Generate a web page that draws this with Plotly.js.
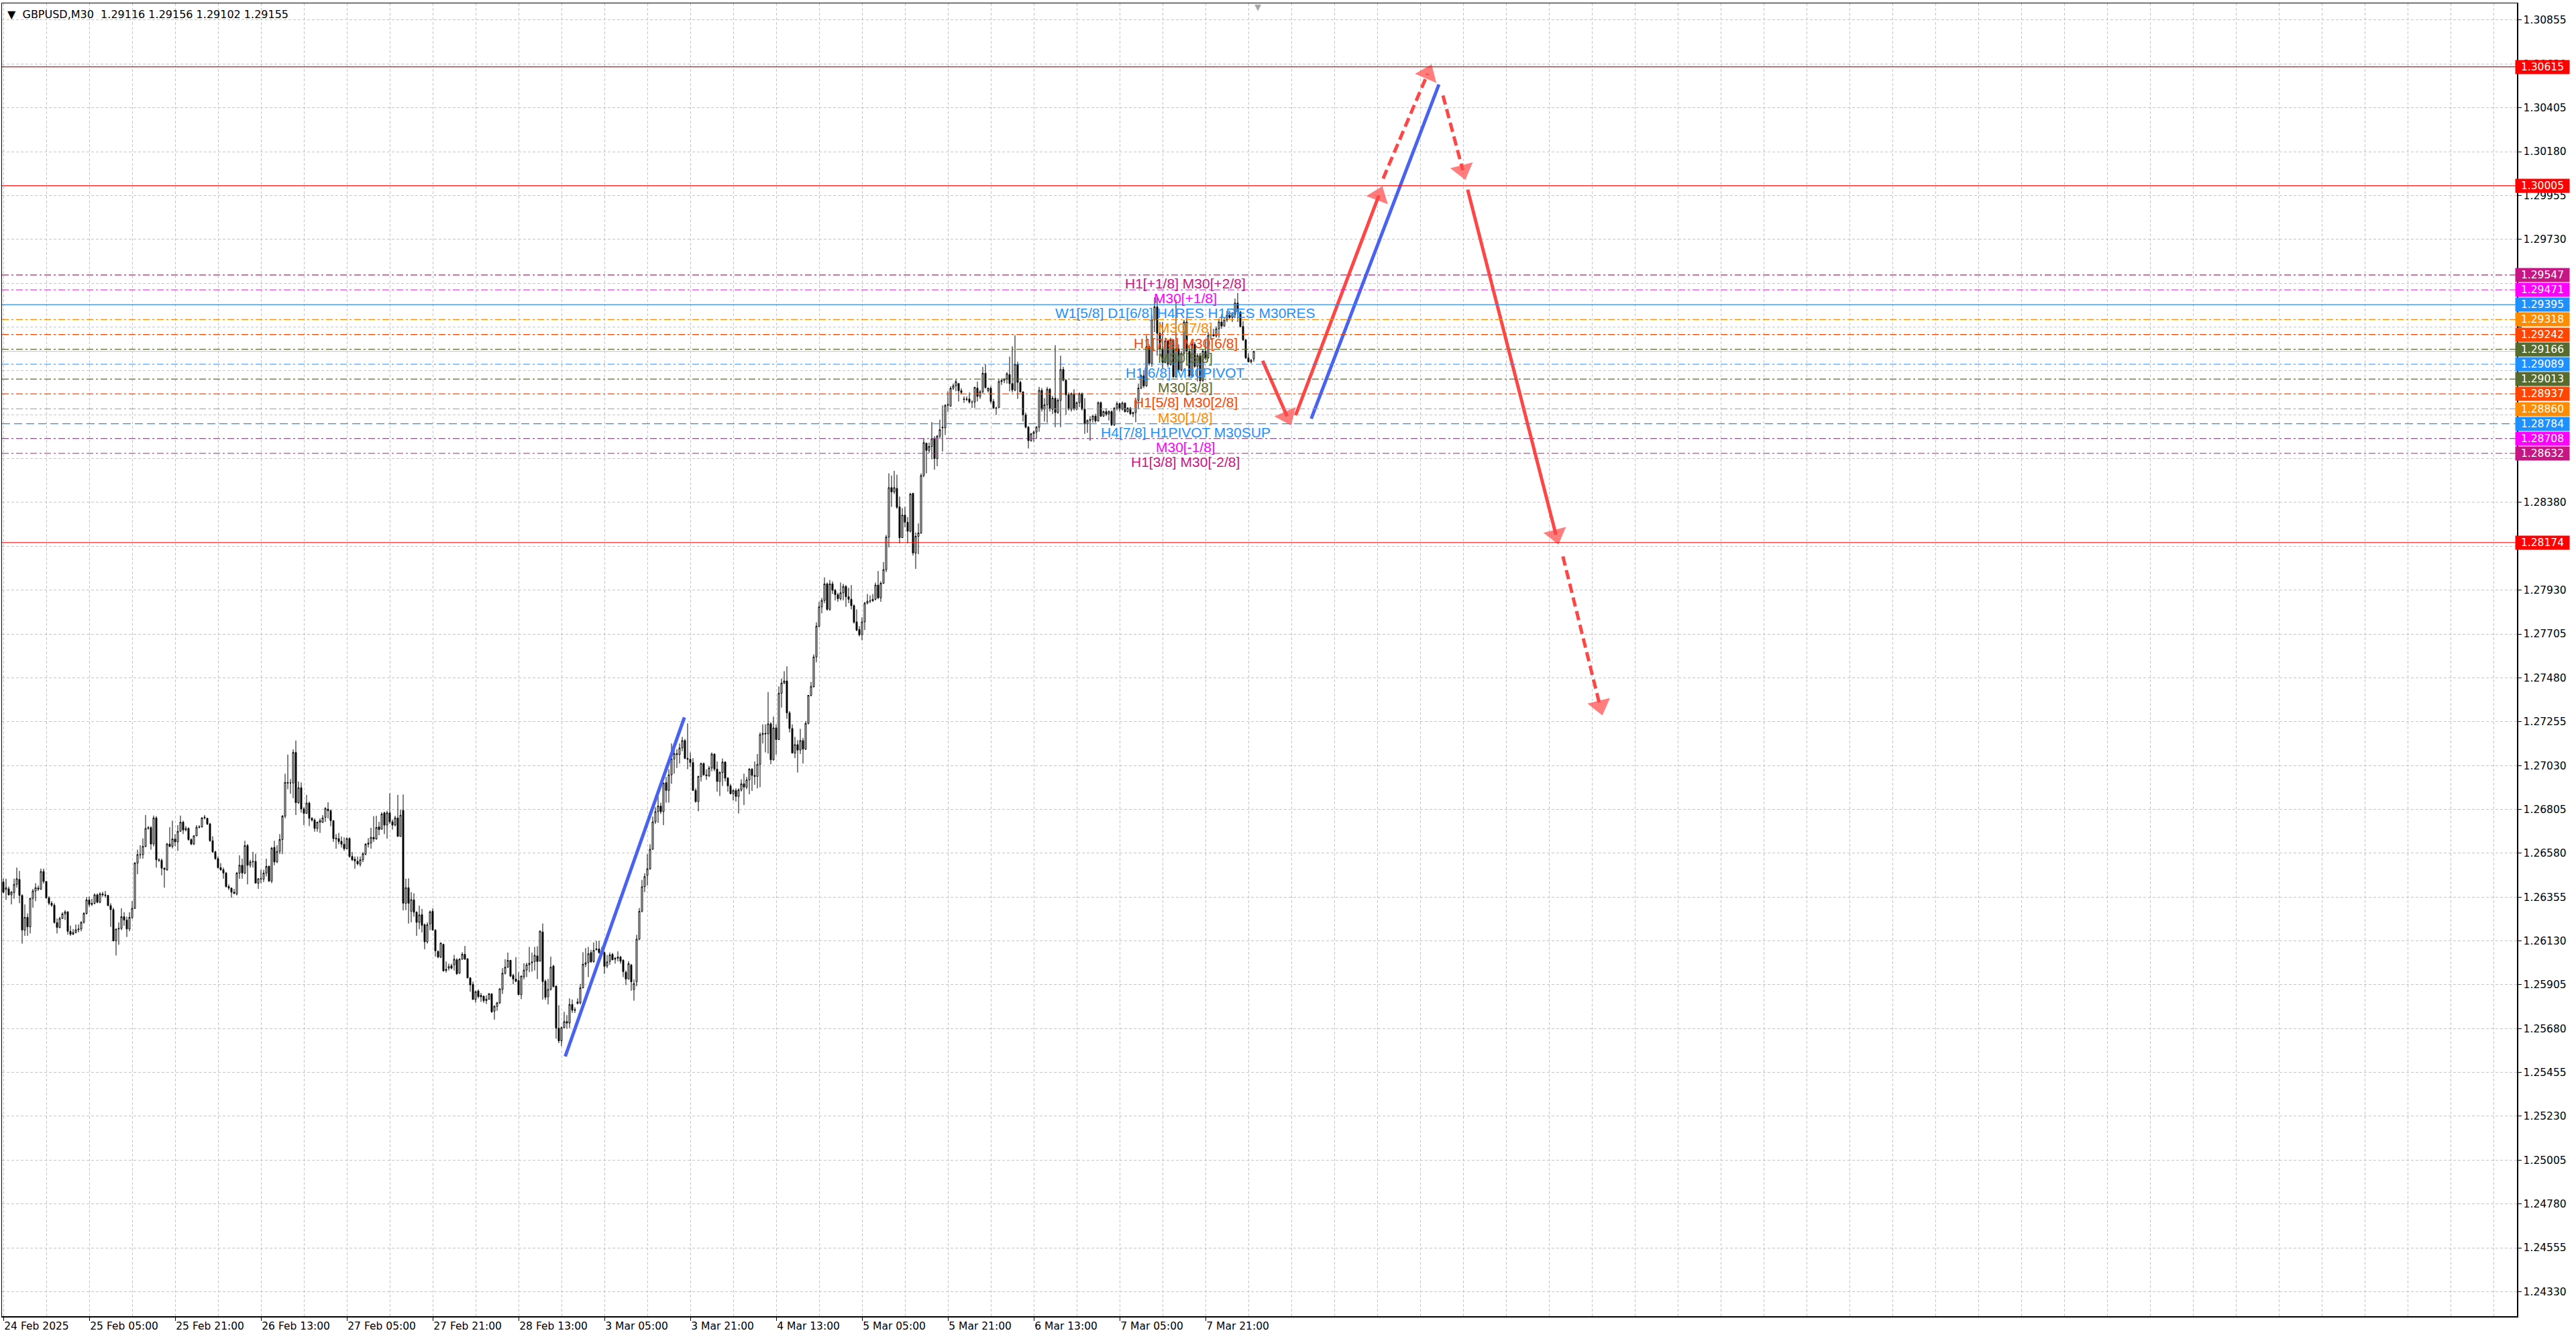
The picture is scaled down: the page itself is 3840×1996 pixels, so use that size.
<!DOCTYPE html>
<html>
<head>
<meta charset="utf-8">
<title>GBPUSD,M30</title>
<script src="https://cdn.plot.ly/plotly-3.0.1.min.js"></script>
<style>
  html, body { margin: 0; padding: 0; background: #ffffff; }
  #chart { width: 3840px; height: 1996px; }
</style>
</head>
<body>
<div id="chart"></div>
<script>
// GBPUSD M30 with Murrey levels and the projected path

const symbol = 'GBPUSD';
const timeframe = 'M30';

// candles, one per 30 minute bar
const openPrices = [
  1.26432,1.26394,1.26397,1.26366,1.26378,1.26420,1.26445,1.26363,1.26185,1.26251,
  1.26202,1.26348,1.26386,1.26401,1.26396,1.26486,1.26435,1.26351,1.26323,1.26313,
  1.26224,1.26199,1.26245,1.26268,1.26279,1.26179,1.26164,1.26173,1.26187,1.26191,
  1.26225,1.26271,1.26340,1.26317,1.26323,1.26366,1.26328,1.26371,1.26366,1.26363,
  1.26311,1.26290,1.26130,1.26191,1.26194,1.26254,1.26237,1.26191,1.26251,1.26297,
  1.26529,1.26573,1.26572,1.26615,1.26707,1.26711,1.26627,1.26761,1.26546,1.26543,
  1.26503,1.26495,1.26627,1.26615,1.26653,1.26638,1.26692,1.26739,1.26699,1.26707,
  1.26650,1.26627,1.26669,1.26713,1.26715,1.26761,1.26759,1.26730,1.26644,1.26587,
  1.26552,1.26506,1.26495,1.26478,1.26409,1.26401,1.26380,1.26371,1.26478,1.26518,
  1.26478,1.26619,1.26518,1.26535,1.26538,1.26426,1.26449,1.26447,1.26478,1.26512,
  1.26437,1.26610,1.26535,1.26589,1.26650,1.26770,1.26943,1.26940,1.26940,1.27097,
  1.26839,1.26916,1.26807,1.26784,1.26837,1.26759,1.26750,1.26707,1.26739,1.26738,
  1.26764,1.26806,1.26798,1.26747,1.26657,1.26655,1.26641,1.26626,1.26603,1.26655,
  1.26563,1.26549,1.26538,1.26523,1.26546,1.26575,1.26626,1.26632,1.26661,1.26653,
  1.26715,1.26703,1.26787,1.26724,1.26787,1.26741,1.26724,1.26761,1.26666,1.26800,
  1.26323,1.26403,1.26282,1.26340,1.26277,1.26225,1.26265,1.26213,1.26125,1.26217,
  1.26282,1.26185,1.26076,1.26047,1.26112,1.25984,1.25990,1.26003,1.26007,1.26033,
  1.25964,1.26036,1.26061,1.26038,1.25940,1.25907,1.25829,1.25873,1.25850,1.25846,
  1.25823,1.25831,1.25858,1.25769,1.25794,1.25812,1.25881,1.25964,1.25995,1.26030,
  1.25953,1.25934,1.25926,1.25854,1.25946,1.25980,1.26007,1.26022,1.26024,1.26053,
  1.26026,1.26176,1.25923,1.25843,1.25881,1.26001,1.25898,1.25682,1.25617,1.25685,
  1.25716,1.25708,1.25804,1.25777,1.25808,1.25812,1.25889,1.26010,1.26018,1.26070,
  1.26024,1.26084,1.26089,1.26072,1.26070,1.26001,1.26024,1.26061,1.26041,1.26041,
  1.26047,1.26030,1.25969,1.25934,1.26006,1.25880,1.25920,1.26139,1.26282,1.26408,
  1.26466,1.26500,1.26600,1.26741,1.26793,1.26822,1.26793,1.26942,1.26902,1.26982,
  1.27063,1.27091,1.27086,1.27120,1.27158,1.27066,1.27062,1.27045,1.26902,1.26845,
  1.26974,1.27040,1.26982,1.26977,1.27017,1.27089,1.27011,1.26948,1.26994,1.27048,
  1.26965,1.26925,1.26885,1.26902,1.26871,1.26905,1.26936,1.26919,1.26956,1.27011,
  1.26979,1.26974,1.27036,1.27189,1.27195,1.27192,1.27244,1.27059,1.27223,1.27163,
  1.27401,1.27453,1.27464,1.27300,1.27220,1.27094,1.27137,1.27109,1.27158,1.27114,
  1.27246,1.27390,1.27435,1.27587,1.27745,1.27844,1.27877,1.27962,1.27831,1.27962,
  1.27929,1.27907,1.27886,1.27916,1.27949,1.27896,1.27883,1.27850,1.27767,1.27728,
  1.27701,1.27767,1.27863,1.27873,1.27875,1.27883,1.27956,1.27890,1.27965,1.28035,
  1.28202,1.28456,1.28434,1.28452,1.28357,1.28199,1.28315,1.28278,1.28232,1.28426,
  1.28120,1.28206,1.28223,1.28518,1.28684,1.28647,1.28667,1.28707,1.28605,1.28720,
  1.28766,1.28763,1.28878,1.28874,1.28966,1.28979,1.28990,1.28953,1.28911,1.28911,
  1.28911,1.28895,1.28895,1.28967,1.28924,1.28948,1.29043,1.28953,1.28966,1.28898,
  1.28865,1.28867,1.29000,1.29006,1.29014,1.29036,1.28990,1.28957,1.29089,1.28996,
  1.28947,1.28829,1.28766,1.28697,1.28732,1.28741,1.28766,1.28955,1.28858,1.28881,
  1.28961,1.28858,1.28915,1.28841,1.28904,1.29062,1.29007,1.28932,1.28858,1.28938,
  1.28858,1.28892,1.28938,1.28858,1.28783,1.28800,1.28806,1.28823,1.28798,1.28892,
  1.28823,1.28846,1.28833,1.28846,1.28778,1.28864,1.28887,1.28858,1.28890,1.28846,
  1.28864,1.28835,1.28841,1.28904,1.28967,1.29030,1.28978,1.29179,1.29093,1.29317,
  1.29384,1.29248,1.29168,1.29099,1.29208,1.29087,1.29214,1.29024,1.29168,1.29059,
  1.29145,1.29306,1.29156,1.29030,1.29191,1.29078,1.29133,1.29005,1.29156,1.29122,
  1.29237,1.29242,1.29234,1.29271,1.29306,1.29285,1.29317,1.29340,1.29329,1.29346,
  1.29403,1.29357,1.29283,1.29214,1.29122,1.29101,1.29116
];
const highPrices = [
  1.26449,1.26449,1.26409,1.26386,1.26449,1.26506,1.26489,1.26369,1.26317,1.26271,
  1.26351,1.26397,1.26426,1.26414,1.26501,1.26501,1.26437,1.26359,1.26334,1.26323,
  1.26245,1.26254,1.26277,1.26288,1.26282,1.26208,1.26191,1.26214,1.26214,1.26231,
  1.26277,1.26355,1.26357,1.26346,1.26374,1.26374,1.26380,1.26382,1.26386,1.26366,
  1.26323,1.26300,1.26191,1.26225,1.26297,1.26277,1.26254,1.26277,1.26334,1.26535,
  1.26598,1.26621,1.26656,1.26776,1.26719,1.26719,1.26773,1.26770,1.26554,1.26552,
  1.26506,1.26633,1.26713,1.26747,1.26678,1.26724,1.26773,1.26747,1.26719,1.26713,
  1.26656,1.26673,1.26724,1.26724,1.26765,1.26776,1.26761,1.26736,1.26667,1.26592,
  1.26564,1.26529,1.26506,1.26484,1.26420,1.26403,1.26397,1.26484,1.26569,1.26552,
  1.26644,1.26627,1.26546,1.26587,1.26577,1.26451,1.26495,1.26495,1.26552,1.26518,
  1.26612,1.26644,1.26621,1.26678,1.26776,1.26988,1.27086,1.26960,1.27112,1.27158,
  1.26948,1.26943,1.26816,1.26879,1.26845,1.26765,1.26759,1.26742,1.26759,1.26775,
  1.26816,1.26841,1.26804,1.26749,1.26678,1.26684,1.26666,1.26661,1.26661,1.26661,
  1.26586,1.26563,1.26563,1.26563,1.26586,1.26632,1.26657,1.26710,1.26770,1.26772,
  1.26741,1.26790,1.26793,1.26798,1.26887,1.26753,1.26772,1.26879,1.26804,1.26881,
  1.26449,1.26451,1.26380,1.26374,1.26282,1.26311,1.26294,1.26219,1.26225,1.26286,
  1.26297,1.26190,1.26081,1.26122,1.26116,1.26024,1.26013,1.26013,1.26058,1.26041,
  1.26041,1.26072,1.26104,1.26041,1.25944,1.25921,1.25875,1.25881,1.25863,1.25850,
  1.25850,1.25863,1.25861,1.25800,1.25817,1.25886,1.25990,1.26036,1.26070,1.26033,
  1.25961,1.26047,1.25969,1.25953,1.26015,1.26018,1.26099,1.26070,1.26099,1.26102,
  1.26185,1.26219,1.25932,1.25935,1.26049,1.26007,1.25900,1.25800,1.25691,1.25766,
  1.25749,1.25835,1.25829,1.25789,1.25835,1.25909,1.26072,1.26093,1.26099,1.26084,
  1.26122,1.26130,1.26130,1.26099,1.26076,1.26058,1.26070,1.26068,1.26047,1.26076,
  1.26053,1.26036,1.25978,1.26026,1.26012,1.25932,1.26161,1.26299,1.26443,1.26477,
  1.26575,1.26626,1.26768,1.26816,1.26871,1.26839,1.26942,1.26971,1.27011,1.27143,
  1.27114,1.27114,1.27143,1.27177,1.27166,1.27246,1.27097,1.27068,1.26913,1.26977,
  1.27045,1.27045,1.27011,1.27028,1.27097,1.27091,1.27051,1.27000,1.27066,1.27051,
  1.26971,1.26936,1.26908,1.26913,1.26913,1.26959,1.26988,1.26971,1.27017,1.27017,
  1.27051,1.27089,1.27200,1.27241,1.27241,1.27407,1.27252,1.27281,1.27241,1.27436,
  1.27476,1.27514,1.27539,1.27309,1.27241,1.27177,1.27160,1.27218,1.27172,1.27258,
  1.27390,1.27459,1.27600,1.27765,1.27870,1.27890,1.27995,1.27969,1.27982,1.27975,
  1.27936,1.27916,1.27969,1.27962,1.27956,1.27942,1.27956,1.27857,1.27831,1.27745,
  1.27791,1.27870,1.27910,1.27903,1.27910,1.27969,1.28028,1.27975,1.28074,1.28213,
  1.28529,1.28518,1.28542,1.28522,1.28410,1.28351,1.28357,1.28305,1.28430,1.28430,
  1.28226,1.28272,1.28529,1.28707,1.28687,1.28687,1.28792,1.28720,1.28726,1.28805,
  1.28878,1.28884,1.28950,1.28977,1.28990,1.29010,1.28992,1.28966,1.28924,1.28924,
  1.28944,1.28904,1.28974,1.29000,1.28957,1.29075,1.29089,1.28970,1.28977,1.28911,
  1.28871,1.29010,1.29016,1.29016,1.29049,1.29128,1.29181,1.29237,1.29102,1.29005,
  1.28950,1.28841,1.28772,1.28737,1.28749,1.28772,1.28973,1.28967,1.28915,1.28973,
  1.28967,1.28927,1.29187,1.28915,1.29133,1.29076,1.29013,1.28944,1.28944,1.28961,
  1.28898,1.28944,1.28944,1.28915,1.28806,1.28823,1.28829,1.28835,1.28898,1.28898,
  1.28852,1.28864,1.28852,1.28852,1.28869,1.28898,1.28892,1.28898,1.28892,1.28869,
  1.28869,1.28846,1.28915,1.28990,1.29036,1.29059,1.29237,1.29191,1.29340,1.29432,
  1.29432,1.29306,1.29306,1.29225,1.29214,1.29225,1.29219,1.29420,1.29191,1.29156,
  1.29317,1.29329,1.29179,1.29202,1.29202,1.29145,1.29145,1.29168,1.29214,1.29254,
  1.29283,1.29271,1.29283,1.29323,1.29346,1.29329,1.29363,1.29363,1.29357,1.29426,
  1.29455,1.29363,1.29311,1.29219,1.29145,1.29116,1.29156
];
const lowPrices = [
  1.26374,1.26340,1.26363,1.26317,1.26346,1.26403,1.26323,1.26116,1.26156,1.26156,
  1.26168,1.26300,1.26334,1.26386,1.26391,1.26424,1.26346,1.26313,1.26305,1.26219,
  1.26168,1.26194,1.26242,1.26237,1.26162,1.26156,1.26160,1.26168,1.26173,1.26179,
  1.26219,1.26265,1.26305,1.26309,1.26317,1.26323,1.26323,1.26357,1.26351,1.26309,
  1.26202,1.26127,1.26055,1.26110,1.26185,1.26208,1.26150,1.26179,1.26242,1.26294,
  1.26472,1.26552,1.26552,1.26610,1.26701,1.26598,1.26615,1.26506,1.26535,1.26466,
  1.26403,1.26489,1.26610,1.26604,1.26615,1.26592,1.26690,1.26678,1.26692,1.26644,
  1.26621,1.26621,1.26667,1.26707,1.26711,1.26753,1.26724,1.26638,1.26581,1.26546,
  1.26501,1.26489,1.26449,1.26403,1.26391,1.26351,1.26369,1.26363,1.26449,1.26449,
  1.26472,1.26420,1.26506,1.26506,1.26426,1.26397,1.26426,1.26432,1.26461,1.26432,
  1.26426,1.26518,1.26529,1.26575,1.26575,1.26759,1.26908,1.26885,1.26862,1.26776,
  1.26833,1.26788,1.26724,1.26782,1.26719,1.26742,1.26690,1.26690,1.26684,1.26735,
  1.26741,1.26758,1.26718,1.26638,1.26603,1.26626,1.26609,1.26592,1.26600,1.26557,
  1.26540,1.26500,1.26517,1.26511,1.26534,1.26569,1.26609,1.26603,1.26638,1.26649,
  1.26672,1.26701,1.26678,1.26655,1.26730,1.26701,1.26718,1.26664,1.26664,1.26286,
  1.26288,1.26219,1.26225,1.26254,1.26156,1.26190,1.26173,1.26087,1.26116,1.26185,
  1.26185,1.26049,1.26041,1.26041,1.25972,1.25967,1.25978,1.25984,1.25978,1.25955,
  1.25961,1.26033,1.26033,1.25938,1.25869,1.25829,1.25812,1.25835,1.25817,1.25812,
  1.25806,1.25827,1.25760,1.25726,1.25771,1.25806,1.25858,1.25957,1.25992,1.25944,
  1.25907,1.25918,1.25852,1.25831,1.25932,1.25944,1.25969,1.25972,1.25978,1.25934,
  1.26024,1.25829,1.25827,1.25804,1.25875,1.25892,1.25628,1.25605,1.25590,1.25680,
  1.25680,1.25682,1.25760,1.25760,1.25804,1.25804,1.25886,1.25995,1.25944,1.26018,
  1.26018,1.26081,1.26064,1.26058,1.25961,1.25990,1.26007,1.26030,1.26013,1.26024,
  1.26013,1.25944,1.25903,1.25932,1.25874,1.25823,1.25897,1.26133,1.26276,1.26380,
  1.26414,1.26494,1.26598,1.26730,1.26735,1.26781,1.26724,1.26839,1.26839,1.26936,
  1.26988,1.27017,1.27040,1.27103,1.27063,1.27011,1.27022,1.26900,1.26839,1.26795,
  1.26948,1.26977,1.26956,1.26971,1.27000,1.27000,1.26896,1.26873,1.26925,1.26948,
  1.26896,1.26882,1.26850,1.26845,1.26784,1.26896,1.26827,1.26908,1.26882,1.26899,
  1.26931,1.26913,1.26919,1.27143,1.27097,1.27091,1.27036,1.27055,1.27086,1.27160,
  1.27327,1.27447,1.27269,1.27200,1.27091,1.27068,1.26994,1.27089,1.27040,1.27109,
  1.27241,1.27384,1.27429,1.27560,1.27738,1.27811,1.27863,1.27824,1.27824,1.27910,
  1.27877,1.27870,1.27877,1.27877,1.27844,1.27863,1.27831,1.27758,1.27719,1.27692,
  1.27672,1.27725,1.27857,1.27863,1.27870,1.27877,1.27883,1.27870,1.27962,1.28022,
  1.28149,1.28357,1.28423,1.28347,1.28170,1.28197,1.28252,1.28170,1.28226,1.28107,
  1.28039,1.28114,1.28219,1.28509,1.28529,1.28634,1.28601,1.28548,1.28566,1.28707,
  1.28641,1.28726,1.28845,1.28871,1.28957,1.28950,1.28898,1.28934,1.28891,1.28900,
  1.28887,1.28865,1.28865,1.28898,1.28911,1.28937,1.28963,1.28944,1.28887,1.28858,
  1.28829,1.28865,1.28983,1.28992,1.28990,1.28950,1.28944,1.28950,1.28911,1.28944,
  1.28795,1.28760,1.28657,1.28691,1.28691,1.28709,1.28743,1.28846,1.28795,1.28789,
  1.28846,1.28833,1.28766,1.28835,1.28766,1.29001,1.28829,1.28852,1.28846,1.28852,
  1.28852,1.28869,1.28852,1.28732,1.28737,1.28697,1.28789,1.28789,1.28795,1.28818,
  1.28818,1.28823,1.28800,1.28772,1.28772,1.28852,1.28846,1.28852,1.28841,1.28841,
  1.28829,1.28818,1.28791,1.28858,1.28961,1.28967,1.28973,1.29082,1.29076,1.29254,
  1.29133,1.29145,1.29065,1.29093,1.29076,1.29082,1.29019,1.29019,1.29047,1.29053,
  1.29133,1.29110,1.29024,1.29024,1.29070,1.29001,1.28996,1.28998,1.29110,1.29116,
  1.29214,1.29231,1.29225,1.29225,1.29271,1.29283,1.29306,1.29323,1.29306,1.29329,
  1.29306,1.29277,1.29208,1.29116,1.29099,1.29093,1.29102
];
const closePrices = [
  1.26380,1.26403,1.26366,1.26380,1.26420,1.26449,1.26363,1.26185,1.26251,1.26202,
  1.26348,1.26386,1.26403,1.26396,1.26486,1.26435,1.26351,1.26323,1.26313,1.26224,
  1.26199,1.26245,1.26268,1.26279,1.26179,1.26164,1.26173,1.26187,1.26191,1.26225,
  1.26271,1.26340,1.26317,1.26323,1.26366,1.26328,1.26371,1.26366,1.26363,1.26311,
  1.26290,1.26130,1.26191,1.26194,1.26254,1.26237,1.26191,1.26251,1.26297,1.26529,
  1.26573,1.26572,1.26615,1.26707,1.26711,1.26627,1.26761,1.26546,1.26543,1.26503,
  1.26497,1.26627,1.26615,1.26653,1.26638,1.26692,1.26739,1.26699,1.26707,1.26650,
  1.26627,1.26669,1.26713,1.26715,1.26761,1.26765,1.26730,1.26644,1.26587,1.26552,
  1.26506,1.26495,1.26478,1.26409,1.26401,1.26380,1.26374,1.26478,1.26518,1.26478,
  1.26619,1.26518,1.26535,1.26538,1.26426,1.26449,1.26447,1.26478,1.26512,1.26437,
  1.26606,1.26535,1.26589,1.26650,1.26770,1.26943,1.26940,1.26940,1.27097,1.26839,
  1.26916,1.26807,1.26784,1.26837,1.26759,1.26750,1.26707,1.26739,1.26747,1.26761,
  1.26810,1.26798,1.26747,1.26655,1.26653,1.26640,1.26626,1.26603,1.26655,1.26563,
  1.26546,1.26540,1.26526,1.26546,1.26577,1.26626,1.26632,1.26661,1.26653,1.26712,
  1.26701,1.26781,1.26724,1.26787,1.26741,1.26724,1.26761,1.26666,1.26775,1.26323,
  1.26403,1.26323,1.26342,1.26277,1.26225,1.26263,1.26210,1.26125,1.26213,1.26279,
  1.26185,1.26079,1.26047,1.26119,1.25976,1.25978,1.25998,1.25990,1.26036,1.25961,
  1.26036,1.26061,1.26036,1.25940,1.25904,1.25829,1.25869,1.25844,1.25843,1.25823,
  1.25831,1.25858,1.25766,1.25794,1.25812,1.25884,1.25964,1.25995,1.26030,1.25949,
  1.25934,1.25923,1.25854,1.25949,1.25980,1.26007,1.26015,1.26018,1.26056,1.26024,
  1.26179,1.25921,1.25840,1.25881,1.25995,1.25895,1.25682,1.25617,1.25685,1.25716,
  1.25708,1.25804,1.25774,1.25774,1.25817,1.25889,1.26010,1.26018,1.26064,1.26022,
  1.26081,1.26089,1.26070,1.26062,1.25999,1.26022,1.26058,1.26033,1.26036,1.26047,
  1.26026,1.25972,1.25934,1.26013,1.25920,1.25911,1.26139,1.26282,1.26408,1.26460,
  1.26500,1.26600,1.26741,1.26793,1.26822,1.26793,1.26940,1.26902,1.26982,1.27063,
  1.27091,1.27086,1.27120,1.27158,1.27066,1.27062,1.27045,1.26902,1.26845,1.26974,
  1.27040,1.26982,1.26977,1.27017,1.27089,1.27011,1.26948,1.26994,1.27048,1.26965,
  1.26925,1.26885,1.26902,1.26871,1.26905,1.26936,1.26919,1.26956,1.27011,1.26979,
  1.26974,1.27036,1.27189,1.27195,1.27192,1.27244,1.27059,1.27223,1.27163,1.27401,
  1.27453,1.27464,1.27300,1.27220,1.27094,1.27137,1.27109,1.27158,1.27114,1.27246,
  1.27390,1.27436,1.27587,1.27745,1.27844,1.27877,1.27962,1.27831,1.27962,1.27929,
  1.27907,1.27886,1.27916,1.27949,1.27896,1.27883,1.27850,1.27765,1.27725,1.27701,
  1.27767,1.27863,1.27873,1.27875,1.27883,1.27956,1.27890,1.27965,1.28035,1.28202,
  1.28456,1.28434,1.28456,1.28355,1.28199,1.28315,1.28278,1.28232,1.28423,1.28120,
  1.28206,1.28223,1.28518,1.28687,1.28647,1.28667,1.28707,1.28605,1.28720,1.28753,
  1.28763,1.28878,1.28882,1.28966,1.28979,1.29000,1.28953,1.28944,1.28908,1.28908,
  1.28895,1.28894,1.28970,1.28924,1.28948,1.29043,1.28970,1.28966,1.28898,1.28865,
  1.28863,1.29000,1.29006,1.29014,1.29040,1.28990,1.28957,1.29089,1.28996,1.28947,
  1.28829,1.28766,1.28697,1.28732,1.28741,1.28766,1.28955,1.28858,1.28881,1.28961,
  1.28858,1.28915,1.28841,1.28904,1.29062,1.29007,1.28932,1.28858,1.28938,1.28858,
  1.28892,1.28938,1.28858,1.28783,1.28800,1.28806,1.28823,1.28798,1.28892,1.28823,
  1.28846,1.28833,1.28846,1.28778,1.28864,1.28887,1.28858,1.28890,1.28846,1.28864,
  1.28835,1.28841,1.28904,1.28967,1.29030,1.28978,1.29179,1.29093,1.29317,1.29384,
  1.29248,1.29168,1.29099,1.29208,1.29087,1.29214,1.29024,1.29168,1.29059,1.29145,
  1.29306,1.29156,1.29030,1.29191,1.29078,1.29133,1.29005,1.29156,1.29122,1.29237,
  1.29242,1.29234,1.29271,1.29306,1.29285,1.29317,1.29340,1.29329,1.29346,1.29403,
  1.29357,1.29283,1.29214,1.29122,1.29101,1.29110,1.29155
];

// time axis: label text and the bar it sits on
const xTickLabels = ['24 Feb 2025', '25 Feb 05:00', '25 Feb 21:00', '26 Feb 13:00', '27 Feb 05:00',
  '27 Feb 21:00', '28 Feb 13:00', '3 Mar 05:00', '3 Mar 21:00', '4 Mar 13:00', '5 Mar 05:00',
  '5 Mar 21:00', '6 Mar 13:00', '7 Mar 05:00', '7 Mar 21:00'];
const xTickBars = [0, 32, 64, 96, 128, 160, 192, 224, 256, 288, 320, 352, 384, 416, 448];

// price scale on the right (labels hidden under the level boxes are left blank)
const yTickValues = [1.24330, 1.24555, 1.24780, 1.25005, 1.25230, 1.25455, 1.25680, 1.25905,
  1.26130, 1.26355, 1.26580, 1.26805, 1.27030, 1.27255, 1.27480, 1.27705, 1.27930, 1.28155,
  1.28380, 1.28605, 1.28830, 1.29055, 1.29280, 1.29505, 1.29730, 1.29955, 1.30180, 1.30405,
  1.30630, 1.30855];
const yTickLabels = ['1.24330', '1.24555', '1.24780', '1.25005', '1.25230', '1.25455', '1.25680',
  '1.25905', '1.26130', '1.26355', '1.26580', '1.26805', '1.27030', '1.27255', '1.27480', '1.27705',
  '1.27930', '', '1.28380', '', '', '', '', '', '1.29730', '1.29955', '1.30180', '1.30405',
  '1.30630', '1.30855'];

// horizontal levels and their names
const levelPrices = [1.30615, 1.30005, 1.29547, 1.29471, 1.29395, 1.29318, 1.29242, 1.29166,
  1.29089, 1.29013, 1.28937, 1.28860, 1.28784, 1.28708, 1.28632, 1.28174];
const levelNames = ['', '', 'H1[+1/8] M30[+2/8]', 'M30[+1/8]', 'W1[5/8] D1[6/8] H4RES H1RES M30RES',
  'M30[7/8]', 'H1[7/8] M30[6/8]', 'M30[5/8]', 'H1[6/8] M30PIVOT', 'M30[3/8]', 'H1[5/8] M30[2/8]',
  'M30[1/8]', 'H4[7/8] H1PIVOT M30SUP', 'M30[-1/8]', 'H1[3/8] M30[-2/8]', ''];

// projected path (red arrows) and trend lines (blue), bar number and price at each end
const arrowFromBar = [469.3, 481.6, 514.2, 536.5, 545.7, 581.2];
const arrowFromPrice = [1.29107, 1.28828, 1.30042, 1.30468, 1.29985, 1.28103];
const arrowToBar = [478.4, 512.6, 530.8, 543.9, 578.6, 595.0];
const arrowToPrice = [1.28822, 1.29955, 1.30580, 1.30085, 1.28214, 1.27337];
const trendFromBar = [209.4, 487.4];
const trendFromPrice = [1.25537, 1.28810];
const trendToBar = [253.8, 535.0];
const trendToPrice = [1.27277, 1.30525];

// ---- styles ----
const DASHDOT = '10px,4px,3px,4px';
const levelColors = ['#FF0000', '#FF0000', '#C71585', '#FF00FF', '#1E90FF', '#FF8C00', '#FF4500',
  '#556B2F', '#1E90FF', '#556B2F', '#FF4500', '#FF8C00', '#1E90FF', '#FF00FF', '#C71585', '#FF0000'];
const levelDashes = ['solid', 'solid', DASHDOT, DASHDOT, 'solid', DASHDOT, DASHDOT, DASHDOT,
  DASHDOT, DASHDOT, DASHDOT, DASHDOT, '12px,6px', DASHDOT, DASHDOT, 'solid'];
const arrowDashes = ['solid', 'solid', '14px,7px', '14px,7px', 'solid', '14px,7px'];
const ARROW_RED = '#FF4646';
const TREND_BLUE = '#4A62F2';
const GRID = '#C4C4C4';
const TEXT_BAR = 440.5; // where the level names are centred

function drawChart() {
    const bars = closePrices.map((_, i) => i);
    const last = closePrices.length - 1;

    const data = [{
        type: 'candlestick',
        x: bars,
        open: openPrices,
        high: highPrices,
        low: lowPrices,
        close: closePrices,
        increasing: { line: { color: '#000000', width: 1 }, fillcolor: '#FFFFFF' },
        decreasing: { line: { color: '#000000', width: 1 }, fillcolor: '#000000' },
        whiskerwidth: 0,
        hoverinfo: 'skip',
        showlegend: false
    }];

    // blue trend lines
    trendFromBar.forEach((b, i) => {
        data.push({
            type: 'scatter',
            mode: 'lines',
            x: [b, trendToBar[i]],
            y: [trendFromPrice[i], trendToPrice[i]],
            line: { color: TREND_BLUE, width: 5 },
            hoverinfo: 'skip',
            showlegend: false
        });
    });

    // red arrows, head turned along the segment
    arrowFromBar.forEach((b, i) => {
        data.push({
            type: 'scatter',
            mode: 'lines+markers',
            x: [b, arrowToBar[i]],
            y: [arrowFromPrice[i], arrowToPrice[i]],
            line: { color: ARROW_RED, width: 5, dash: arrowDashes[i] },
            marker: {
                symbol: ['circle', 'triangle-up'],
                size: [0, 30],
                color: ARROW_RED,
                angleref: 'previous',
                line: { width: 0 }
            },
            cliponaxis: false,
            hoverinfo: 'skip',
            showlegend: false
        });
    });

    const shapes = levelPrices.map((p, i) => ({
        type: 'line',
        xref: 'paper', x0: 0, x1: 1,
        yref: 'y', y0: p, y1: p,
        line: { color: levelColors[i], width: 1.2, dash: levelDashes[i] },
        layer: 'above'
    }));
    // bid line at the last close
    shapes.push({
        type: 'line',
        xref: 'paper', x0: 0, x1: 1,
        yref: 'y', y0: closePrices[last], y1: closePrices[last],
        line: { color: '#C0C0C0', width: 1 },
        layer: 'below'
    });

    const annotations = [];
    levelPrices.forEach((p, i) => {
        if (levelNames[i]) {
            annotations.push({
                xref: 'x', yref: 'y', x: TEXT_BAR, y: p,
                text: levelNames[i],
                showarrow: false,
                xanchor: 'center', yanchor: 'top',
                borderpad: 0,
                font: { family: 'Liberation Sans, Arial, sans-serif', size: 21, color: levelColors[i] }
            });
        }
        // price box on the scale
        annotations.push({
            xref: 'paper', yref: 'y', x: 1, y: p,
            xanchor: 'left', yanchor: 'middle', xshift: -3,
            text: p.toFixed(5),
            showarrow: false,
            bgcolor: levelColors[i],
            width: 80, height: 20, borderpad: 0,
            font: { family: 'DejaVu Sans, sans-serif', size: 15.5, color: '#FFFFFF' }
        });
    });

    // chart header
    annotations.push({
        xref: 'paper', yref: 'paper', x: 0, y: 1,
        xanchor: 'left', yanchor: 'top', xshift: 6, yshift: -5,
        text: '\u25BC  ' + symbol + ',' + timeframe + '  ' +
            [openPrices[last], highPrices[last], lowPrices[last], closePrices[last]].map(v => v.toFixed(5)).join(' '),
        showarrow: false,
        font: { family: 'DejaVu Sans, sans-serif', size: 16, color: '#000000' }
    });
    // chart shift marker
    annotations.push({
        xref: 'x', yref: 'paper', x: last + 1.5, y: 1,
        xanchor: 'center', yanchor: 'top', yshift: 4,
        text: '\u25BC', showarrow: false,
        font: { family: 'DejaVu Sans, sans-serif', size: 13, color: '#A8A8A8' }
    });

    const layout = {
        width: 3840,
        height: 1996,
        margin: { l: 3, r: 88, t: 5, b: 34 },
        paper_bgcolor: '#FFFFFF',
        plot_bgcolor: '#FFFFFF',
        font: { family: 'DejaVu Sans, sans-serif', size: 15.5, color: '#000000' },
        showlegend: false,
        xaxis: {
            type: 'linear',
            range: [-0.5, 936.75],
            tickmode: 'array',
            tickvals: xTickBars,
            ticktext: xTickLabels,
            ticklabelposition: 'outside right',
            ticks: 'outside', ticklen: 5, tickcolor: '#000000',
            showgrid: true, gridcolor: GRID, gridwidth: 1, griddash: '4px,3px',
            minor: { tickmode: 'linear', tick0: 0, dtick: 16, showgrid: true, gridcolor: GRID, griddash: '4px,3px', ticks: '' },
            showline: true, linecolor: '#000000', linewidth: 1.5, mirror: true,
            zeroline: false,
            rangeslider: { visible: false },
            fixedrange: true
        },
        yaxis: {
            side: 'right',
            range: [1.24204, 1.30941],
            tickmode: 'array',
            tickvals: yTickValues,
            ticktext: yTickLabels,
            ticks: 'outside', ticklen: 5, tickcolor: '#000000',
            showgrid: true, gridcolor: GRID, gridwidth: 1, griddash: '4px,3px',
            showline: true, linecolor: '#000000', linewidth: 1.5, mirror: true,
            zeroline: false,
            fixedrange: true
        },
        shapes: shapes,
        annotations: annotations
    };

    Plotly.newPlot('chart', data, layout, { staticPlot: true, displayModeBar: false });
}

drawChart();
</script>
</body>
</html>
